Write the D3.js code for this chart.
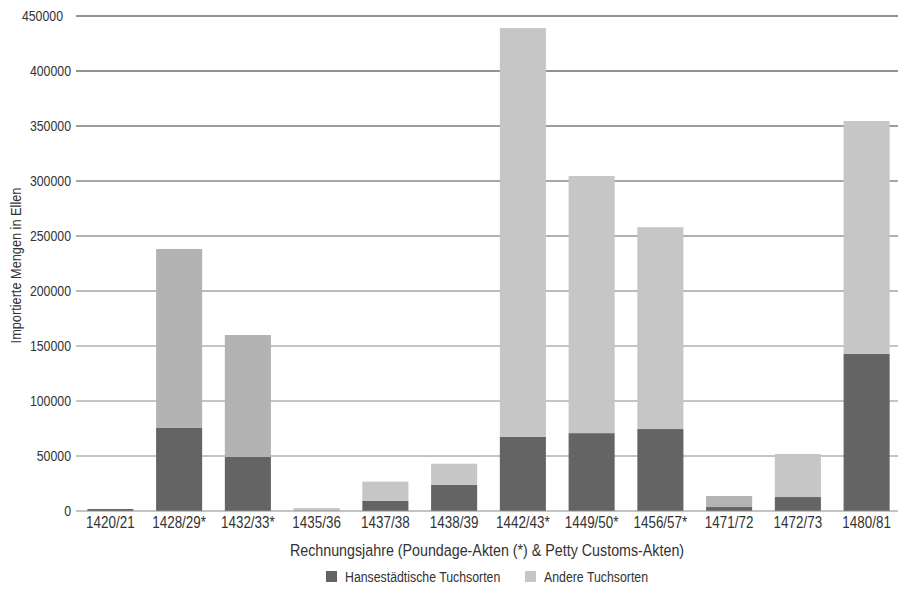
<!DOCTYPE html>
<html>
<head>
<meta charset="utf-8">
<script src="https://cdn.jsdelivr.net/npm/d3@7"></script>
<style>
  body { margin: 0; background: #fff; }
  svg { display: block; }
  text { font-family: "Liberation Sans", Arial, sans-serif; fill: #333; }
</style>
</head>
<body>
<div id="chart"></div>
<script>
// Rechnungsjahre
var years = ["1420/21", "1428/29*", "1432/33*", "1435/36", "1437/38", "1438/39",
             "1442/43*", "1449/50*", "1456/57*", "1471/72", "1472/73", "1480/81"];
// Hansestädtische Tuchsorten (Ellen)
var hanse = [1800, 75500, 49200, 300, 9400, 23900, 67300, 70800, 74500, 3600, 12700, 142700];
// Andere Tuchsorten (Ellen)
var andere = [0, 162700, 110800, 2400, 17300, 19100, 371700, 233700, 183500, 10000, 39100, 211800];
var yTicks = [0, 50000, 100000, 150000, 200000, 250000, 300000, 350000, 400000, 450000];
var seriesNames = ["Hansestädtische Tuchsorten", "Andere Tuchsorten"];

var W = 898, H = 596;
var margin = { top: 16, right: -3, bottom: 85, left: 76 };

var colors = { dark: "#646464", light: "#c6c6c6", lightAlt: "#b3b3b3" };
// some bars use a slightly darker grey for the upper part
var altShade = ["1428/29*", "1432/33*", "1471/72"];

// condensed look: no narrow font installed, so squeeze Liberation Sans
var squeeze = 0.85;

var rows = years.map(function (y, i) {
  return { year: y, hanse: hanse[i], andere: andere[i] };
});
var stacked = d3.stack().keys(["hanse", "andere"])(rows);

var x = d3.scaleBand().domain(years)
  .range([margin.left, W - margin.right])
  .paddingInner(0.33).paddingOuter(0.165);
var y = d3.scaleLinear().domain([0, 450000]).range([H - margin.bottom, margin.top]);

var svg = d3.select("#chart").append("svg").attr("width", W).attr("height", H);

var gridColor = d3.scaleLinear().domain([150000, 400000]).range(["#8a8a8a", "#262626"]).clamp(true);

var place = function (px, py, extra) {
  return "translate(" + px + "," + py + ")" + (extra || "") + " scale(" + squeeze + ",1)";
};

// gridlines
svg.append("g").selectAll("line").data(yTicks.slice(1)).enter().append("line")
  .attr("x1", margin.left).attr("x2", W)
  .attr("y1", function (d) { return y(d); }).attr("y2", function (d) { return y(d); })
  .attr("stroke", function (d) { return gridColor(d); })
  .attr("stroke-width", 1);

// bars
svg.append("g").selectAll("g").data(stacked).enter().append("g")
  .each(function (layer) {
    d3.select(this).selectAll("rect").data(layer).enter().append("rect")
      .attr("x", function (d) { return x(d.data.year); })
      .attr("width", x.bandwidth())
      .attr("y", function (d) { return y(d[1]); })
      .attr("height", function (d) { return Math.max(0, y(d[0]) - y(d[1])); })
      .attr("fill", function (d) {
        if (layer.key === "hanse") return colors.dark;
        return altShade.indexOf(d.data.year) >= 0 ? colors.lightAlt : colors.light;
      });
  });

// baseline
svg.append("line")
  .attr("x1", margin.left).attr("x2", W)
  .attr("y1", y(0)).attr("y2", y(0))
  .attr("stroke", "#8a8a8a").attr("stroke-width", 1.2);

// y axis labels
svg.append("g").selectAll("text").data(yTicks).enter().append("text")
  .attr("transform", function (d) { return place(d === 450000 ? 63 : 71, y(d)); })
  .attr("dy", "0.36em")
  .attr("text-anchor", "end")
  .style("font-size", "14.5px")
  .text(function (d) { return d; });

// x axis labels
svg.append("g").selectAll("text").data(years).enter().append("text")
  .attr("transform", function (d) { return place(x(d) + x.bandwidth() / 2, y(0) + 17); })
  .attr("text-anchor", "middle")
  .style("font-size", "15.8px")
  .text(function (d) { return d; });

// axis titles
svg.append("text")
  .attr("transform", place(21, (margin.top + y(0)) / 2 + 2, " rotate(-90)"))
  .attr("text-anchor", "middle")
  .style("font-size", "15px")
  .text("Importierte Mengen in Ellen");

svg.append("text")
  .attr("transform", place(487, 556))
  .attr("text-anchor", "middle")
  .style("font-size", "16.8px")
  .text("Rechnungsjahre (Poundage-Akten (*) & Petty Customs-Akten)");

// legend
var legend = svg.append("g").attr("transform", "translate(326,571)");
var legendX = [0, 199];
seriesNames.forEach(function (name, i) {
  var g = legend.append("g").attr("transform", "translate(" + legendX[i] + ",0)");
  g.append("rect").attr("width", 11).attr("height", 11)
    .attr("fill", i === 0 ? colors.dark : colors.light);
  g.append("text").attr("transform", place(19, 10.5))
    .style("font-size", "14.5px")
    .text(name);
});
</script>
</body>
</html>
